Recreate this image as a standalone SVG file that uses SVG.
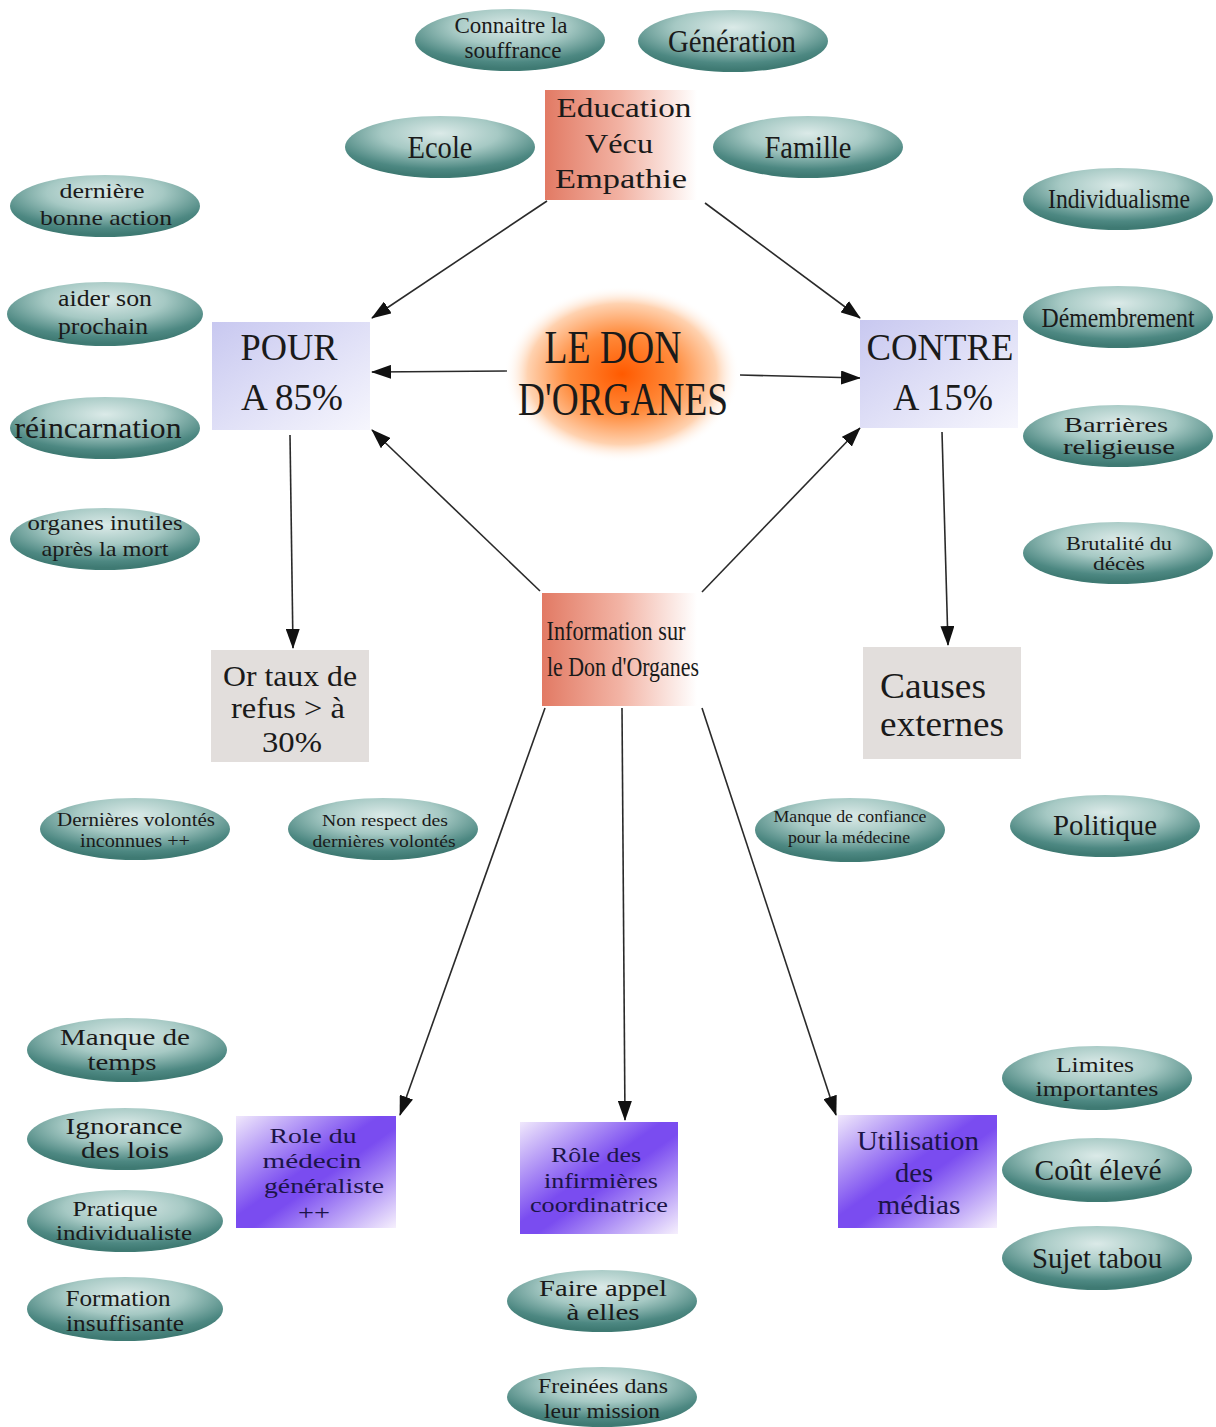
<svg xmlns="http://www.w3.org/2000/svg" width="1216" height="1427" viewBox="0 0 1216 1427">
<style>
text{font-family:"Liberation Serif","Times New Roman",serif;fill:#1a1a1a;text-anchor:middle}
.ell{fill:url(#teal)}
.conn line{stroke:#2a2a2a;stroke-width:1.6;marker-end:url(#ah)}
.pt{fill:#1c1448}
</style>
<defs>
<radialGradient id="teal" cx="50%" cy="28%" r="68%">
<stop offset="0" stop-color="#dbeae8"/>
<stop offset="0.45" stop-color="#a6c9c4"/>
<stop offset="0.85" stop-color="#4d8882"/>
<stop offset="1" stop-color="#3f7a73"/>
</radialGradient>
<radialGradient id="orange" cx="50%" cy="50%" r="50%">
<stop offset="0" stop-color="#ff5a00"/>
<stop offset="0.45" stop-color="#ff8a3a"/>
<stop offset="0.8" stop-color="#ffd2b0"/>
<stop offset="1" stop-color="#ffffff" stop-opacity="0"/>
</radialGradient>
<linearGradient id="salmon" x1="0" y1="0" x2="1" y2="0">
<stop offset="0" stop-color="#e27a64"/>
<stop offset="0.5" stop-color="#f2b3a4"/>
<stop offset="1" stop-color="#ffffff"/>
</linearGradient>
<linearGradient id="lav" x1="0" y1="0" x2="1" y2="1">
<stop offset="0" stop-color="#c8c8f0"/>
<stop offset="1" stop-color="#f6f6fd"/>
</linearGradient>
<linearGradient id="purp" x1="0" y1="0" x2="1" y2="1">
<stop offset="0" stop-color="#f0e8fc"/>
<stop offset="0.45" stop-color="#7a4cf0"/>
<stop offset="0.55" stop-color="#7a4cf0"/>
<stop offset="1" stop-color="#f6f0fd"/>
</linearGradient>
<marker id="ah" markerUnits="userSpaceOnUse" markerWidth="20" markerHeight="14" viewBox="0 0 20 14" refX="19" refY="7" orient="auto">
<path d="M0,0 L20,7 L0,14 z" fill="#111"/>
</marker>
</defs>

<g id="connectors" class="conn">
<line x1="547" y1="201" x2="372" y2="318"/>
<line x1="705" y1="203" x2="860" y2="318"/>
<line x1="507" y1="371" x2="372" y2="372"/>
<line x1="740" y1="375" x2="860" y2="378"/>
<line x1="540" y1="591" x2="372" y2="430"/>
<line x1="702" y1="592" x2="860" y2="428"/>
<line x1="290" y1="435" x2="293" y2="648"/>
<line x1="942" y1="432" x2="948" y2="645"/>
<line x1="545" y1="708" x2="400" y2="1115"/>
<line x1="622" y1="708" x2="625" y2="1120"/>
<line x1="702" y1="708" x2="836" y2="1115"/>
</g>

<g id="n-connaitre"><ellipse class="ell" cx="510" cy="40" rx="95" ry="31"/><text font-size="24" x="511" y="33" textLength="113" lengthAdjust="spacingAndGlyphs">Connaitre la</text><text font-size="24" x="513" y="58" textLength="97" lengthAdjust="spacingAndGlyphs">souffrance</text></g>
<g id="n-generation"><ellipse class="ell" cx="733" cy="41" rx="95" ry="31"/><text font-size="31" x="732" y="52" textLength="128" lengthAdjust="spacingAndGlyphs">Génération</text></g>
<g id="n-ecole"><ellipse class="ell" cx="440" cy="147" rx="95" ry="31"/><text font-size="31" x="440" y="158" textLength="65" lengthAdjust="spacingAndGlyphs">Ecole</text></g>
<g id="n-famille"><ellipse class="ell" cx="808" cy="147" rx="95" ry="31"/><text font-size="31" x="808" y="158" textLength="87" lengthAdjust="spacingAndGlyphs">Famille</text></g>

<g id="n-education"><rect x="545" y="90" width="152" height="110" fill="url(#salmon)"/>
<text font-size="28" x="624" y="117" textLength="135" lengthAdjust="spacingAndGlyphs">Education</text>
<text font-size="28" x="619" y="153" textLength="68" lengthAdjust="spacingAndGlyphs">Vécu</text>
<text font-size="28" x="621" y="188" textLength="132" lengthAdjust="spacingAndGlyphs">Empathie</text></g>

<g id="n-derniere"><ellipse class="ell" cx="105" cy="206" rx="95" ry="31"/><text font-size="22" x="102" y="198" textLength="85" lengthAdjust="spacingAndGlyphs">dernière</text><text font-size="22" x="106" y="225" textLength="132" lengthAdjust="spacingAndGlyphs">bonne action</text></g>
<g id="n-aider"><ellipse class="ell" cx="105" cy="314" rx="98" ry="32"/><text font-size="24" x="105" y="306" textLength="94" lengthAdjust="spacingAndGlyphs">aider son</text><text font-size="24" x="103" y="334" textLength="90" lengthAdjust="spacingAndGlyphs">prochain</text></g>
<g id="n-reincarnation"><ellipse class="ell" cx="105" cy="428" rx="95" ry="31"/><text font-size="30" x="98" y="438" textLength="167" lengthAdjust="spacingAndGlyphs">réincarnation</text></g>
<g id="n-organes"><ellipse class="ell" cx="105" cy="539" rx="95" ry="31"/><text font-size="21" x="105" y="530" textLength="155" lengthAdjust="spacingAndGlyphs">organes inutiles</text><text font-size="21" x="105" y="556" textLength="127" lengthAdjust="spacingAndGlyphs">après la mort</text></g>

<g id="n-individualisme"><ellipse class="ell" cx="1118" cy="199" rx="95" ry="31"/><text font-size="27" x="1119" y="208" textLength="142" lengthAdjust="spacingAndGlyphs">Individualisme</text></g>
<g id="n-demembrement"><ellipse class="ell" cx="1118" cy="317" rx="95" ry="31"/><text font-size="27" x="1118" y="327" textLength="153" lengthAdjust="spacingAndGlyphs">Démembrement</text></g>
<g id="n-barrieres"><ellipse class="ell" cx="1118" cy="436" rx="95" ry="31"/><text font-size="21" x="1116" y="432" textLength="104" lengthAdjust="spacingAndGlyphs">Barrières</text><text font-size="21" x="1119" y="454" textLength="112" lengthAdjust="spacingAndGlyphs">religieuse</text></g>
<g id="n-brutalite"><ellipse class="ell" cx="1118" cy="553" rx="95" ry="31"/><text font-size="18" x="1119" y="550" textLength="106" lengthAdjust="spacingAndGlyphs">Brutalité du</text><text font-size="18" x="1119" y="570" textLength="52" lengthAdjust="spacingAndGlyphs">décès</text></g>

<g id="n-pour"><rect x="212" y="322" width="158" height="108" fill="url(#lav)"/>
<text font-size="38" x="289" y="360" textLength="97" lengthAdjust="spacingAndGlyphs">POUR</text>
<text font-size="38" x="292" y="410" textLength="102" lengthAdjust="spacingAndGlyphs">A 85%</text></g>
<g id="n-contre"><rect x="860" y="320" width="158" height="108" fill="url(#lav)"/>
<text font-size="38" x="940" y="360" textLength="147" lengthAdjust="spacingAndGlyphs">CONTRE</text>
<text font-size="38" x="943" y="410" textLength="100" lengthAdjust="spacingAndGlyphs">A 15%</text></g>
<g id="n-don"><ellipse cx="622" cy="374" rx="118" ry="88" fill="url(#orange)"/>
<text font-size="46" x="613" y="363" textLength="137" lengthAdjust="spacingAndGlyphs">LE DON</text>
<text font-size="46" x="623" y="415" textLength="210" lengthAdjust="spacingAndGlyphs">D'ORGANES</text></g>

<g id="n-refus"><rect x="211" y="650" width="158" height="112" fill="#e2dedc"/>
<text font-size="30" x="290" y="686" textLength="134" lengthAdjust="spacingAndGlyphs">Or taux de</text>
<text font-size="30" x="288" y="718" textLength="114" lengthAdjust="spacingAndGlyphs">refus &gt; à</text>
<text font-size="30" x="292" y="752" textLength="60" lengthAdjust="spacingAndGlyphs">30%</text></g>
<g id="n-causes"><rect x="863" y="647" width="158" height="112" fill="#e2dedc"/>
<text font-size="36" x="933" y="698" textLength="106" lengthAdjust="spacingAndGlyphs">Causes</text>
<text font-size="36" x="942" y="736" textLength="124" lengthAdjust="spacingAndGlyphs">externes</text></g>
<g id="n-information"><rect x="542" y="593" width="155" height="113" fill="url(#salmon)"/>
<text font-size="28" x="616" y="640" textLength="139" lengthAdjust="spacingAndGlyphs">Information sur</text>
<text font-size="28" x="623" y="676" textLength="152" lengthAdjust="spacingAndGlyphs">le Don d'Organes</text></g>

<g id="n-dernieres"><ellipse class="ell" cx="135" cy="829" rx="95" ry="31"/><text font-size="18" x="136" y="826" textLength="158" lengthAdjust="spacingAndGlyphs">Dernières volontés</text><text font-size="18" x="135" y="847" textLength="110" lengthAdjust="spacingAndGlyphs">inconnues ++</text></g>
<g id="n-nonrespect"><ellipse class="ell" cx="383" cy="829" rx="95" ry="31"/><text font-size="17" x="385" y="826" textLength="126" lengthAdjust="spacingAndGlyphs">Non respect des</text><text font-size="17" x="384" y="847" textLength="143" lengthAdjust="spacingAndGlyphs">dernières volontés</text></g>
<g id="n-confiance"><ellipse class="ell" cx="850" cy="830" rx="95" ry="32"/><text font-size="17" x="850" y="822" textLength="153" lengthAdjust="spacingAndGlyphs">Manque de confiance</text><text font-size="17" x="849" y="843" textLength="122" lengthAdjust="spacingAndGlyphs">pour la médecine</text></g>
<g id="n-politique"><ellipse class="ell" cx="1105" cy="826" rx="95" ry="31"/><text font-size="30" x="1105" y="835" textLength="104" lengthAdjust="spacingAndGlyphs">Politique</text></g>

<g id="n-temps"><ellipse class="ell" cx="127" cy="1050" rx="100" ry="32"/><text font-size="24" x="125" y="1045" textLength="130" lengthAdjust="spacingAndGlyphs">Manque de</text><text font-size="24" x="122" y="1070" textLength="69" lengthAdjust="spacingAndGlyphs">temps</text></g>
<g id="n-ignorance"><ellipse class="ell" cx="125" cy="1139" rx="98" ry="31"/><text font-size="24" x="124" y="1134" textLength="117" lengthAdjust="spacingAndGlyphs">Ignorance</text><text font-size="24" x="125" y="1158" textLength="88" lengthAdjust="spacingAndGlyphs">des lois</text></g>
<g id="n-pratique"><ellipse class="ell" cx="125" cy="1221" rx="98" ry="31"/><text font-size="22" x="115" y="1216" textLength="85" lengthAdjust="spacingAndGlyphs">Pratique</text><text font-size="22" x="124" y="1240" textLength="136" lengthAdjust="spacingAndGlyphs">individualiste</text></g>
<g id="n-formation"><ellipse class="ell" cx="125" cy="1309" rx="98" ry="32"/><text font-size="24" x="118" y="1306" textLength="105" lengthAdjust="spacingAndGlyphs">Formation</text><text font-size="24" x="125" y="1331" textLength="118" lengthAdjust="spacingAndGlyphs">insuffisante</text></g>

<g id="n-role"><rect x="236" y="1116" width="160" height="112" fill="url(#purp)"/>
<text class="pt" font-size="22" x="313" y="1143" textLength="87" lengthAdjust="spacingAndGlyphs">Role du</text>
<text class="pt" font-size="22" x="312" y="1168" textLength="99" lengthAdjust="spacingAndGlyphs">médecin</text>
<text class="pt" font-size="22" x="324" y="1193" textLength="120" lengthAdjust="spacingAndGlyphs">généraliste</text>
<text class="pt" font-size="20" x="314" y="1220" textLength="32" lengthAdjust="spacingAndGlyphs">++</text></g>
<g id="n-infirmieres"><rect x="520" y="1122" width="158" height="112" fill="url(#purp)"/>
<text class="pt" font-size="22" x="596" y="1162" textLength="90" lengthAdjust="spacingAndGlyphs">Rôle des</text>
<text class="pt" font-size="22" x="601" y="1188" textLength="114" lengthAdjust="spacingAndGlyphs">infirmières</text>
<text class="pt" font-size="22" x="599" y="1212" textLength="138" lengthAdjust="spacingAndGlyphs">coordinatrice</text></g>
<g id="n-medias"><rect x="838" y="1115" width="159" height="113" fill="url(#purp)"/>
<text class="pt" font-size="28" x="918" y="1150" textLength="122" lengthAdjust="spacingAndGlyphs">Utilisation</text>
<text class="pt" font-size="28" x="914" y="1182" textLength="38" lengthAdjust="spacingAndGlyphs">des</text>
<text class="pt" font-size="28" x="919" y="1214" textLength="83" lengthAdjust="spacingAndGlyphs">médias</text></g>

<g id="n-appel"><ellipse class="ell" cx="602" cy="1301" rx="95" ry="31"/><text font-size="24" x="603" y="1296" textLength="128" lengthAdjust="spacingAndGlyphs">Faire appel</text><text font-size="24" x="603" y="1320" textLength="73" lengthAdjust="spacingAndGlyphs">à elles</text></g>
<g id="n-freinees"><ellipse class="ell" cx="602" cy="1397" rx="95" ry="30"/><text font-size="22" x="603" y="1393" textLength="130" lengthAdjust="spacingAndGlyphs">Freinées dans</text><text font-size="22" x="602" y="1418" textLength="116" lengthAdjust="spacingAndGlyphs">leur mission</text></g>
<g id="n-limites"><ellipse class="ell" cx="1097" cy="1078" rx="95" ry="32"/><text font-size="22" x="1095" y="1072" textLength="78" lengthAdjust="spacingAndGlyphs">Limites</text><text font-size="22" x="1097" y="1096" textLength="123" lengthAdjust="spacingAndGlyphs">importantes</text></g>
<g id="n-cout"><ellipse class="ell" cx="1097" cy="1170" rx="95" ry="32"/><text font-size="29" x="1098" y="1180" textLength="127" lengthAdjust="spacingAndGlyphs">Coût élevé</text></g>
<g id="n-tabou"><ellipse class="ell" cx="1097" cy="1258" rx="95" ry="32"/><text font-size="29" x="1097" y="1268" textLength="130" lengthAdjust="spacingAndGlyphs">Sujet tabou</text></g>
</svg>
